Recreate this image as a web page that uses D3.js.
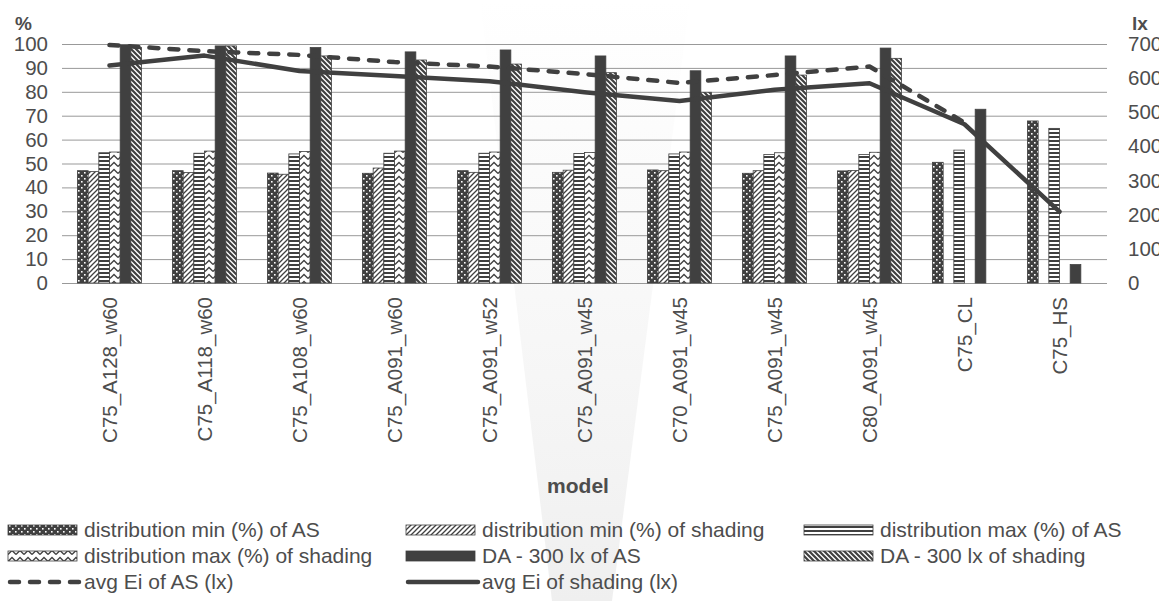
<!DOCTYPE html>
<html>
<head>
<meta charset="utf-8">
<script src="https://cdn.jsdelivr.net/npm/d3@7"></script>
<style>
  html, body { margin: 0; padding: 0; background: #fff; overflow: hidden; }
  svg { display: block; font-family: "Liberation Sans", Arial, sans-serif; }
</style>
</head>
<body>
<div id="chart"></div>
<script>
// Data
const categories = ['C75_A128_w60', 'C75_A118_w60', 'C75_A108_w60', 'C75_A091_w60', 'C75_A091_w52',
                    'C75_A091_w45', 'C70_A091_w45', 'C75_A091_w45', 'C80_A091_w45', 'C75_CL', 'C75_HS'];

const minAS      = [47.0, 47.0, 46.0, 45.9, 47.0, 46.3, 47.3, 45.9, 46.9, 50.5, 67.8];
const minShading = [46.6, 46.2, 45.5, 48.1, 46.3, 47.2, 47.0, 47.0, 47.1, null, null];
const maxAS      = [54.5, 54.3, 54.0, 54.3, 54.3, 54.2, 54.0, 53.8, 53.8, 55.6, 64.7];
const maxShading = [54.8, 55.2, 55.0, 55.2, 54.8, 54.6, 54.8, 54.5, 54.7, null, null];
const daAS       = [99.6, 99.2, 98.5, 96.7, 97.5, 95.0, 88.8, 95.0, 98.3, 72.7, 7.7];
const daShading  = [98.6, 99.2, 95.0, 93.3, 91.6, 88.0, 79.8, 87.0, 94.0, null, null];

const avgEiAS      = [697, 679, 668, 647, 634, 612, 586, 609, 634, 470, null];
const avgEiShading = [637, 666, 621, 606, 591, 559, 533, 566, 585, 465, 209];

const leftTicks  = [0, 10, 20, 30, 40, 50, 60, 70, 80, 90, 100];
const rightTicks = [0, 100, 200, 300, 400, 500, 600, 700];

const barSeries = [
    { key: 'minAS',      name: 'distribution min (%) of AS',      values: minAS,      fill: 'url(#p-dots)' },
    { key: 'minShading', name: 'distribution min (%) of shading', values: minShading, fill: 'url(#p-up)' },
    { key: 'maxAS',      name: 'distribution max (%) of AS',      values: maxAS,      fill: 'url(#p-horiz)' },
    { key: 'maxShading', name: 'distribution max (%) of shading', values: maxShading, fill: 'url(#p-zig)' },
    { key: 'daAS',       name: 'DA - 300 lx of AS',               values: daAS,       fill: '#404040' },
    { key: 'daShading',  name: 'DA - 300 lx of shading',          values: daShading,  fill: 'url(#p-down)' }
];
const lineSeries = [
    { key: 'eiAS',      name: 'avg Ei of AS (lx)',      values: avgEiAS,      dash: '9,11' },
    { key: 'eiShading', name: 'avg Ei of shading (lx)', values: avgEiShading, dash: null }
];

const W = 1159, H = 601;
const plot = { left: 62, right: 1107, top: 44, bottom: 283 };
const dark = '#404040';
const textColor = '#4d4d4d';

const svg = d3.select('#chart').append('svg')
    .attr('width', W)
    .attr('height', H);

// Fill patterns (Excel style)
const defs = svg.append('defs');

const dots = defs.append('pattern').attr('id', 'p-dots')
    .attr('patternUnits', 'userSpaceOnUse').attr('width', 6).attr('height', 6);
dots.append('rect').attr('width', 6).attr('height', 6).attr('fill', dark);
dots.append('rect').attr('x', 1).attr('y', 1).attr('width', 1.6).attr('height', 1.6).attr('fill', '#fff');
dots.append('rect').attr('x', 4).attr('y', 4).attr('width', 1.6).attr('height', 1.6).attr('fill', '#fff');

const up = defs.append('pattern').attr('id', 'p-up')
    .attr('patternUnits', 'userSpaceOnUse').attr('width', 5).attr('height', 5);
up.append('rect').attr('width', 5).attr('height', 5).attr('fill', '#fff');
up.append('path').attr('d', 'M-1,6 L6,-1 M-1,1 L1,-1 M4,6 L6,4')
    .attr('stroke', dark).attr('stroke-width', 1.3);

const horiz = defs.append('pattern').attr('id', 'p-horiz')
    .attr('patternUnits', 'userSpaceOnUse').attr('width', 4).attr('height', 4);
horiz.append('rect').attr('width', 4).attr('height', 4).attr('fill', '#fff');
horiz.append('rect').attr('y', 0).attr('width', 4).attr('height', 2).attr('fill', dark);

const zig = defs.append('pattern').attr('id', 'p-zig')
    .attr('patternUnits', 'userSpaceOnUse').attr('width', 8).attr('height', 7);
zig.append('rect').attr('width', 8).attr('height', 7).attr('fill', '#fff');
zig.append('path').attr('d', 'M0,5.5 L4,1.5 L8,5.5')
    .attr('fill', 'none').attr('stroke', dark).attr('stroke-width', 1.3);

const down = defs.append('pattern').attr('id', 'p-down')
    .attr('patternUnits', 'userSpaceOnUse').attr('width', 5).attr('height', 5);
down.append('rect').attr('width', 5).attr('height', 5).attr('fill', '#fff');
down.append('path').attr('d', 'M-1,-1 L6,6 M4,-1 L6,1 M-1,4 L1,6')
    .attr('stroke', dark).attr('stroke-width', 2.2);

// Faint watermark in the background, fading out towards the top
const fade = defs.append('linearGradient').attr('id', 'wm-fade')
    .attr('x1', 0).attr('y1', 0).attr('x2', 0).attr('y2', 1);
fade.append('stop').attr('offset', '0%').attr('stop-color', '#f2f2f2').attr('stop-opacity', 0);
fade.append('stop').attr('offset', '55%').attr('stop-color', '#f2f2f2').attr('stop-opacity', 0.6);
fade.append('stop').attr('offset', '100%').attr('stop-color', '#efefef').attr('stop-opacity', 1);
svg.append('path')
    .attr('d', 'M480,0 L690,0 L612,601 L552,601 Z')
    .attr('fill', 'url(#wm-fade)');

// Scales (index based: one model name appears twice)
const idx = d3.range(categories.length);
const x = d3.scaleBand().domain(idx).range([plot.left, plot.right]).padding(0);
const xInner = d3.scaleBand().domain(barSeries.map(s => s.key))
    .range([x.bandwidth() * 0.163, x.bandwidth() * 0.837]).padding(0);
const yLeft = d3.scaleLinear().domain([0, 100]).range([plot.bottom, plot.top]);
const yRight = d3.scaleLinear().domain([0, 700]).range([plot.bottom, plot.top]);

// Left axis with gridlines
const gLeft = svg.append('g')
    .attr('transform', `translate(${plot.left},0)`)
    .call(d3.axisLeft(yLeft).tickValues(leftTicks)
        .tickSize(-(plot.right - plot.left)).tickPadding(14));
gLeft.select('.domain').remove();
gLeft.selectAll('line').attr('stroke', '#999').attr('stroke-width', 1);
gLeft.selectAll('text').attr('fill', textColor).attr('font-size', '20.5px');

// Right axis
const gRight = svg.append('g')
    .attr('transform', `translate(${plot.right},0)`)
    .call(d3.axisRight(yRight).tickValues(rightTicks).tickSize(0).tickPadding(21));
gRight.select('.domain').remove();
gRight.selectAll('text').attr('fill', textColor).attr('font-size', '20.5px');

// Bottom axis with rotated labels
const gBottom = svg.append('g')
    .attr('transform', `translate(0,${plot.bottom})`)
    .call(d3.axisBottom(x).tickSize(0).tickFormat(i => categories[i]));
gBottom.select('.domain').remove();
gBottom.selectAll('text')
    .attr('transform', 'rotate(-90)')
    .attr('text-anchor', 'end')
    .attr('x', -14)
    .attr('y', 0)
    .attr('dy', '0.35em')
    .attr('fill', textColor)
    .attr('font-size', '20.5px');

// Bars
const groups = svg.append('g').selectAll('g')
    .data(idx)
    .join('g')
    .attr('transform', i => `translate(${x(i)},0)`);

groups.selectAll('rect')
    .data(i => barSeries
        .filter(s => s.values[i] != null)
        .map(s => ({ key: s.key, value: s.values[i], fill: s.fill })))
    .join('rect')
    .attr('x', d => xInner(d.key))
    .attr('y', d => yLeft(d.value))
    .attr('width', xInner.bandwidth())
    .attr('height', d => yLeft(0) - yLeft(d.value))
    .attr('fill', d => d.fill)
    .attr('stroke', dark)
    .attr('stroke-width', 0.8);

// Lines on the right axis
const line = d3.line()
    .defined(d => d.v != null)
    .x(d => x(d.i) + x.bandwidth() / 2)
    .y(d => yRight(d.v));

lineSeries.forEach(s => {
    svg.append('path')
        .datum(idx.map(i => ({ i: i, v: s.values[i] })))
        .attr('d', line)
        .attr('fill', 'none')
        .attr('stroke', dark)
        .attr('stroke-width', 4.5)
        .attr('stroke-linecap', 'round')
        .attr('stroke-linejoin', 'round')
        .attr('stroke-dasharray', s.dash);
});

// Axis titles
svg.append('text').attr('x', 15).attr('y', 30)
    .attr('font-size', '19px').attr('font-weight', 'bold').attr('fill', textColor)
    .text('%');
svg.append('text').attr('x', 1132).attr('y', 30)
    .attr('font-size', '19px').attr('font-weight', 'bold').attr('fill', textColor)
    .text('lx');
svg.append('text').attr('x', 578).attr('y', 493)
    .attr('text-anchor', 'middle')
    .attr('font-size', '21px').attr('font-weight', 'bold').attr('fill', textColor)
    .text('model');

// Legend
const legendCols = [8, 406, 804];
const legendRows = [530, 556, 582];
const legendItems = barSeries.map(s => ({ type: 'bar', s: s }))
    .concat(lineSeries.map(s => ({ type: 'line', s: s })));

const legend = svg.append('g');
legendItems.forEach((item, i) => {
    const lx = legendCols[i % 3];
    const ly = legendRows[Math.floor(i / 3)];
    const g = legend.append('g').attr('transform', `translate(${lx},${ly})`);
    if (item.type === 'bar') {
        g.append('rect')
            .attr('x', 0).attr('y', -5)
            .attr('width', 69).attr('height', 10)
            .attr('fill', item.s.fill)
            .attr('stroke', dark).attr('stroke-width', 0.8);
    } else {
        g.append('line')
            .attr('x1', 2).attr('x2', 72).attr('y1', 0).attr('y2', 0)
            .attr('stroke', dark).attr('stroke-width', 4.5)
            .attr('stroke-linecap', 'round')
            .attr('stroke-dasharray', item.s.dash);
    }
    g.append('text')
        .attr('x', 76).attr('y', 0).attr('dy', '0.35em')
        .attr('font-size', '21px').attr('fill', textColor)
        .text(item.s.name);
});
</script>
</body>
</html>
